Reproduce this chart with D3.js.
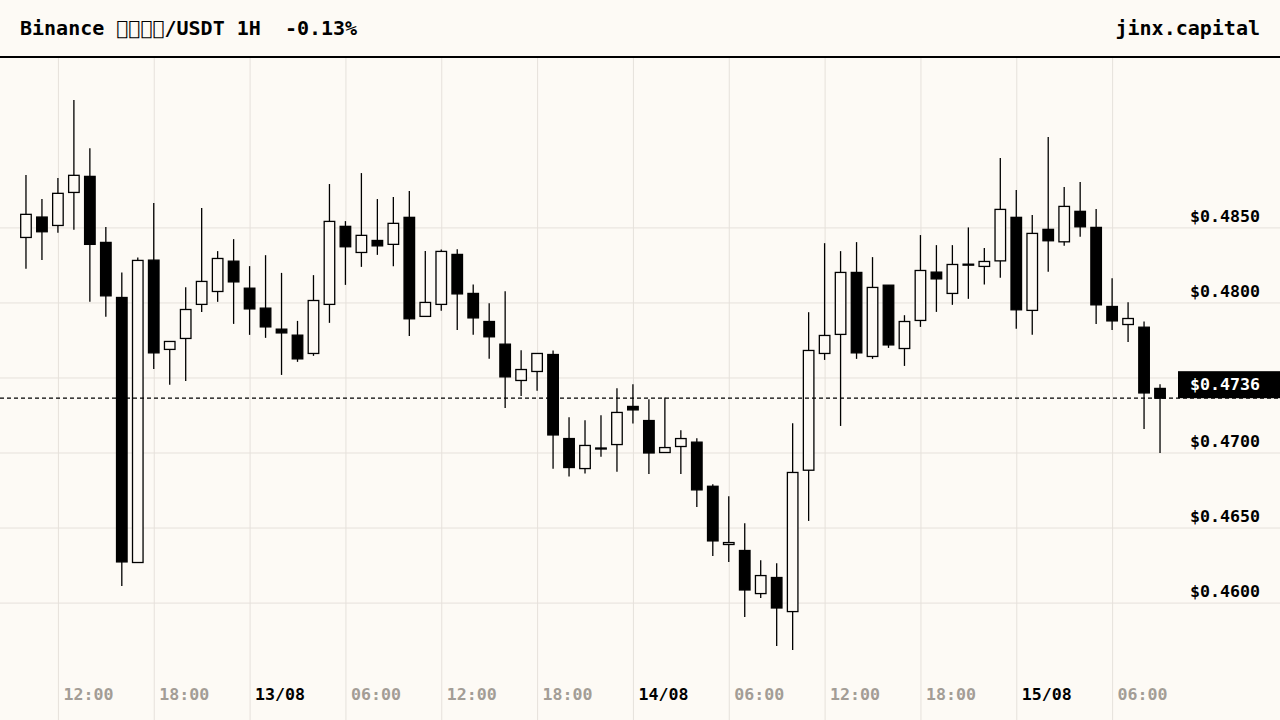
<!DOCTYPE html>
<html>
<head>
<meta charset="utf-8">
<script src="https://cdn.jsdelivr.net/npm/d3@7"></script>
<style>
    html, body { margin: 0; padding: 0; background: #fdfaf5; }
    svg { display: block; font-family: "DejaVu Sans Mono", monospace; font-weight: bold; }
</style>
</head>
<body>
<div id="chart"></div>
<script>
// Candle data, one per hour, starting 12/08 10:00 UTC
const startTime = "2024-08-12T10:00:00Z";

const opens = [
    0.48433, 0.48569, 0.48513, 0.48733, 0.48840, 0.48400, 0.48033, 0.46267, 0.48282, 0.47687,
    0.47760, 0.47987, 0.48073, 0.48275, 0.48095, 0.47962, 0.47822, 0.47782, 0.47660, 0.47987,
    0.48507, 0.48333, 0.48413, 0.48387, 0.48567, 0.47907, 0.47987, 0.48320, 0.48060, 0.47873,
    0.47722, 0.47480, 0.47540, 0.47653, 0.47093, 0.46893, 0.47025, 0.47053, 0.47307, 0.47213,
    0.47000, 0.47040, 0.47069, 0.46775, 0.46387, 0.46347, 0.46060, 0.46167, 0.45940, 0.46882,
    0.47660, 0.47787, 0.48200, 0.47640, 0.48115, 0.47693, 0.47880, 0.48202, 0.48060, 0.48250,
    0.48240, 0.48277, 0.48567, 0.47947, 0.48487, 0.48404, 0.48607, 0.48500, 0.47973, 0.47853,
    0.47835, 0.47427
];
const highs = [
    0.48849, 0.48689, 0.48829, 0.49349, 0.49027, 0.48502, 0.48200, 0.48300, 0.48662, 0.47740,
    0.48102, 0.48629, 0.48342, 0.48422, 0.48242, 0.48315, 0.48197, 0.47877, 0.48182, 0.48789,
    0.48542, 0.48862, 0.48689, 0.48702, 0.48742, 0.48342, 0.48353, 0.48355, 0.48120, 0.47995,
    0.48075, 0.47682, 0.47660, 0.47680, 0.47235, 0.47215, 0.47249, 0.47429, 0.47455, 0.47355,
    0.47367, 0.47149, 0.47095, 0.46789, 0.46709, 0.46529, 0.46282, 0.46262, 0.47195, 0.47935,
    0.48395, 0.48342, 0.48402, 0.48302, 0.48115, 0.47915, 0.48449, 0.48382, 0.48382, 0.48500,
    0.48362, 0.48962, 0.48749, 0.48582, 0.49102, 0.48769, 0.48802, 0.48622, 0.48162, 0.48002,
    0.47873, 0.47455
];
const lows = [
    0.48224, 0.48282, 0.48464, 0.48484, 0.48004, 0.47904, 0.46111, 0.46267, 0.47557, 0.47451,
    0.47477, 0.47937, 0.48004, 0.47857, 0.47784, 0.47764, 0.47517, 0.47604, 0.47644, 0.47864,
    0.48117, 0.48237, 0.48317, 0.48242, 0.47777, 0.47907, 0.47944, 0.47817, 0.47784, 0.47624,
    0.47297, 0.47377, 0.47411, 0.46891, 0.46840, 0.46860, 0.46971, 0.46871, 0.47193, 0.46857,
    0.47000, 0.46857, 0.46637, 0.46311, 0.46271, 0.45904, 0.46031, 0.45711, 0.45684, 0.46544,
    0.47617, 0.47177, 0.47624, 0.47624, 0.47697, 0.47577, 0.47837, 0.47937, 0.47984, 0.48024,
    0.48120, 0.48164, 0.47824, 0.47784, 0.48204, 0.48377, 0.48437, 0.47857, 0.47817, 0.47737,
    0.47157, 0.46997
];
const closes = [
    0.48587, 0.48471, 0.48727, 0.48847, 0.48387, 0.48044, 0.46271, 0.48280, 0.47664, 0.47740,
    0.47953, 0.48140, 0.48293, 0.48137, 0.47957, 0.47837, 0.47797, 0.47624, 0.48013, 0.48540,
    0.48371, 0.48447, 0.48377, 0.48527, 0.47891, 0.48000, 0.48340, 0.48057, 0.47897, 0.47771,
    0.47504, 0.47553, 0.47660, 0.47117, 0.46900, 0.47047, 0.47030, 0.47267, 0.47284, 0.46997,
    0.47033, 0.47093, 0.46751, 0.46411, 0.46400, 0.46084, 0.46180, 0.45964, 0.46867, 0.47680,
    0.47780, 0.48200, 0.47664, 0.48100, 0.47717, 0.47873, 0.48213, 0.48157, 0.48253, 0.48255,
    0.48273, 0.48620, 0.47951, 0.48460, 0.48411, 0.48640, 0.48504, 0.47984, 0.47877, 0.47893,
    0.47397, 0.47362
];

// Price levels shown on the right
const priceTicks = [0.4600, 0.4650, 0.4700, 0.4750, 0.4800, 0.4850];

const titleText = "Binance \uE000\uE001\uE002\uE003/USDT 1H  -0.13%";
const brandText = "jinx.capital";

// -----------

const width = 1280;
const height = 720;
const headerY = 57;

const bg = "#fdfaf5";
const gridColor = "#e6e1db";
const mutedText = "#a39d96";

// Build candle rows
let t0 = new Date(startTime);
let data = [];
for (let i = 0; i < opens.length; i++) {
    data.push({
        t: d3.utcHour.offset(t0, i),
        o: opens[i], h: highs[i], l: lows[i], c: closes[i]
    });
}
let lastClose = closes[closes.length - 1];

let svg = d3.select("#chart")
    .append("svg")
    .attr("width", width)
    .attr("height", height);

svg.append("rect")
    .attr("width", width)
    .attr("height", height)
    .attr("fill", bg);

// Scales
let xScale = d3.scaleUtc()
    .domain([d3.utcHour.offset(data[0].t, -1), d3.utcHour.offset(data[data.length - 1].t, 1)])
    .range([10, 1176]);

let yScale = d3.scaleLinear()
    .domain([d3.min(lows), d3.max(highs)])
    .range([650, 100]);

let step = xScale(data[1].t) - xScale(data[0].t);
let bodyW = step * 0.66;

// Vertical grid + time labels
let fmtDay = d3.utcFormat("%d/%m");
let fmtHour = d3.utcFormat("%H:%M");
let isMidnight = d => d.getUTCHours() === 0;

let axisX = d3.axisBottom(xScale)
    .ticks(d3.utcHour.every(6))
    .tickSize(-(height - headerY - 1))
    .tickFormat(d => isMidnight(d) ? fmtDay(d) : fmtHour(d));

let gx = svg.append("g")
    .attr("transform", `translate(0, ${height})`)
    .call(axisX);
gx.select(".domain").remove();
gx.selectAll(".tick line").attr("stroke", gridColor).attr("stroke-width", 1);
gx.selectAll(".tick text")
    .attr("x", 5)
    .attr("y", -20)
    .attr("dy", 0)
    .attr("text-anchor", "start")
    .attr("font-size", "16.6px")
    .attr("font-family", "DejaVu Sans Mono, monospace")
    .attr("font-weight", "bold")
    .attr("fill", d => isMidnight(d) ? "#000" : mutedText);

// Horizontal grid + price labels
let axisY = d3.axisLeft(yScale)
    .tickValues(priceTicks)
    .tickSize(width)
    .tickFormat(d => "$" + d3.format(".4f")(d));

let gy = svg.append("g")
    .attr("transform", `translate(${width}, 0)`)
    .call(axisY);
gy.select(".domain").remove();
gy.selectAll(".tick line").attr("stroke", gridColor).attr("stroke-width", 1);
gy.selectAll(".tick text")
    .attr("x", -20)
    .attr("dy", -6)
    .attr("text-anchor", "end")
    .attr("font-size", "16.6px")
    .attr("font-family", "DejaVu Sans Mono, monospace")
    .attr("font-weight", "bold")
    .attr("fill", "#000")
    // label hidden when it would sit under the current price tag
    .style("display", d => Math.abs(yScale(d) - yScale(lastClose)) < 30 ? "none" : null);

// Candles
let candles = svg.append("g")
    .selectAll("g")
    .data(data)
    .enter().append("g");

candles.append("line")
    .attr("x1", d => xScale(d.t))
    .attr("x2", d => xScale(d.t))
    .attr("y1", d => yScale(d.h))
    .attr("y2", d => yScale(d.l))
    .attr("stroke", "#000")
    .attr("stroke-width", 1.3);

candles.append("rect")
    .attr("x", d => xScale(d.t) - bodyW / 2)
    .attr("width", bodyW)
    .attr("y", d => yScale(Math.max(d.o, d.c)))
    .attr("height", d => Math.max(1, Math.abs(yScale(d.o) - yScale(d.c))))
    .attr("fill", d => d.c >= d.o ? bg : "#000")
    .attr("stroke", "#000")
    .attr("stroke-width", 1.3);

// Current price line and tag
let yLast = yScale(lastClose);

svg.append("line")
    .attr("x1", 0)
    .attr("x2", width)
    .attr("y1", yLast)
    .attr("y2", yLast)
    .attr("stroke", "#000")
    .attr("stroke-width", 1.2)
    .attr("stroke-dasharray", "4,3");

svg.append("rect")
    .attr("x", 1178)
    .attr("y", yLast - 27)
    .attr("width", width - 1178)
    .attr("height", 27)
    .attr("fill", "#000");

svg.append("text")
    .attr("x", 1260)
    .attr("y", yLast - 8)
    .attr("text-anchor", "end")
    .attr("font-size", "16.6px")
    .attr("fill", "#fff")
    .text("$" + d3.format(".4f")(lastClose));

// Header
svg.append("rect")
    .attr("width", width)
    .attr("height", headerY)
    .attr("fill", bg);

svg.append("line")
    .attr("x1", 0)
    .attr("x2", width)
    .attr("y1", headerY)
    .attr("y2", headerY)
    .attr("stroke", "#000")
    .attr("stroke-width", 2);

svg.append("text")
    .attr("x", 20)
    .attr("y", 35)
    .attr("font-size", "20px")
    .attr("fill", "#000")
    .attr("xml:space", "preserve")
    .style("white-space", "pre")
    .text(titleText);

svg.append("text")
    .attr("x", 1260)
    .attr("y", 35)
    .attr("text-anchor", "end")
    .attr("font-size", "20px")
    .attr("fill", "#000")
    .text(brandText);
</script>
</body>
</html>
